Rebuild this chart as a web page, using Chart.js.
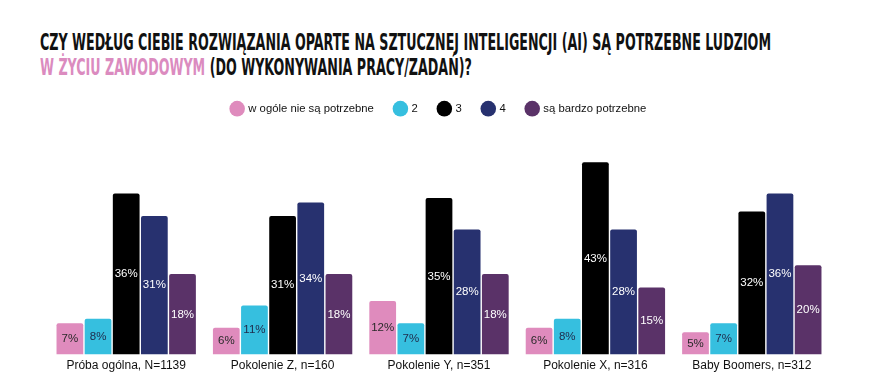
<!DOCTYPE html>
<html>
<head>
<meta charset="utf-8">
<script src="https://cdn.jsdelivr.net/npm/chart.js@4.4.1/dist/chart.umd.min.js"></script>
<style>
  html, body { margin: 0; padding: 0; background: #fff; }
  #wrap { position: relative; width: 871px; height: 388px; overflow: hidden; }
  #title { position: absolute; left: 40px; top: 30px; font-family: "DejaVu Sans Condensed", "DejaVu Sans", sans-serif; font-stretch: condensed; font-weight: bold; font-size: 22.5px; color: #111; line-height: 25px; white-space: nowrap; }
  #title div { transform-origin: 0 0; display: inline-block; }
  .pink { color: #db8bbf; }
  #cv { position: absolute; left: 0; top: 0; }
</style>
</head>
<body>
<div id="wrap">
  <div id="title">
    <div id="t1">CZY WEDŁUG CIEBIE ROZWIĄZANIA OPARTE NA SZTUCZNEJ INTELIGENCJI (AI) SĄ POTRZEBNE LUDZIOM</div><br>
    <div id="t2"><span class="pink">W ŻYCIU ZAWODOWYM</span> (DO WYKONYWANIA PRACY/ZADAŃ)?</div>
  </div>
  <canvas id="cv" width="871" height="388"></canvas>
</div>
<script>
const categories = ["Próba ogólna, N=1139", "Pokolenie Z, n=160", "Pokolenie Y, n=351", "Pokolenie X, n=316", "Baby Boomers, n=312"];
const seriesNames = ["w ogóle nie są potrzebne", "2", "3", "4", "są bardzo potrzebne"];
const s1 = [7, 6, 12, 6, 5];
const s2 = [8, 11, 7, 8, 7];
const s3 = [36, 31, 35, 43, 32];
const s4 = [31, 34, 28, 28, 36];
const s5 = [18, 18, 18, 15, 20];

const colors = ["#df8bbd", "#36bfdf", "#000000", "#27316f", "#5a3268"];
const labelColors = ["#2a2a2a", "#1f2a4a", "#ffffff", "#ffffff", "#ffffff"];

// title fit
const t1 = document.getElementById('t1');
const t2 = document.getElementById('t2');
const w = t1.getBoundingClientRect().width;
const sc = 731 / w;
t1.style.transform = 'scaleX(' + sc + ')';
t2.style.transform = 'scaleX(' + sc + ')';

const valueLabels = {
  id: 'valueLabels',
  afterDatasetsDraw(chart) {
    const ctx = chart.ctx;
    ctx.save();
    ctx.font = '11.5px "Liberation Sans", Arial, sans-serif';
    ctx.textAlign = 'center';
    ctx.textBaseline = 'middle';
    chart.data.datasets.forEach((ds, i) => {
      const meta = chart.getDatasetMeta(i);
      meta.data.forEach((bar, j) => {
        const y = (bar.y + bar.base) / 2;
        ctx.fillStyle = labelColors[i];
        ctx.fillText(ds.data[j] + '%', bar.x, y);
      });
    });
    ctx.restore();
  }
};

const allSeries = [s1, s2, s3, s4, s5];
new Chart(document.getElementById('cv'), {
  type: 'bar',
  data: {
    labels: categories,
    datasets: allSeries.map((d, i) => ({
      label: seriesNames[i],
      data: d,
      backgroundColor: colors[i],
      borderRadius: 2,
      borderSkipped: 'bottom',
      categoryPercentage: 0.9,
      barPercentage: 0.95
    }))
  },
  options: {
    responsive: false,
    animation: false,
    devicePixelRatio: 1,
    layout: { padding: { top: 82, left: 48, right: 41, bottom: 11 } },
    plugins: {
      title: { display: false },
      tooltip: { enabled: false },
      legend: {
        position: 'top',
        labels: {
          usePointStyle: true,
          pointStyle: 'circle',
          boxWidth: 11,
          boxHeight: 11,
          padding: 21,
          color: '#111',
          font: { family: '"Liberation Sans", Arial, sans-serif', size: 11.3 }
        }
      }
    },
    scales: {
      x: {
        grid: { display: false, drawTicks: false },
        border: { display: false },
        ticks: { color: '#111', font: { family: '"Liberation Sans", Arial, sans-serif', size: 12 }, padding: 4 }
      },
      y: {
        display: false,
        min: 0,
        max: 51.5
      }
    }
  },
  plugins: [valueLabels]
});
</script>
</body>
</html>
